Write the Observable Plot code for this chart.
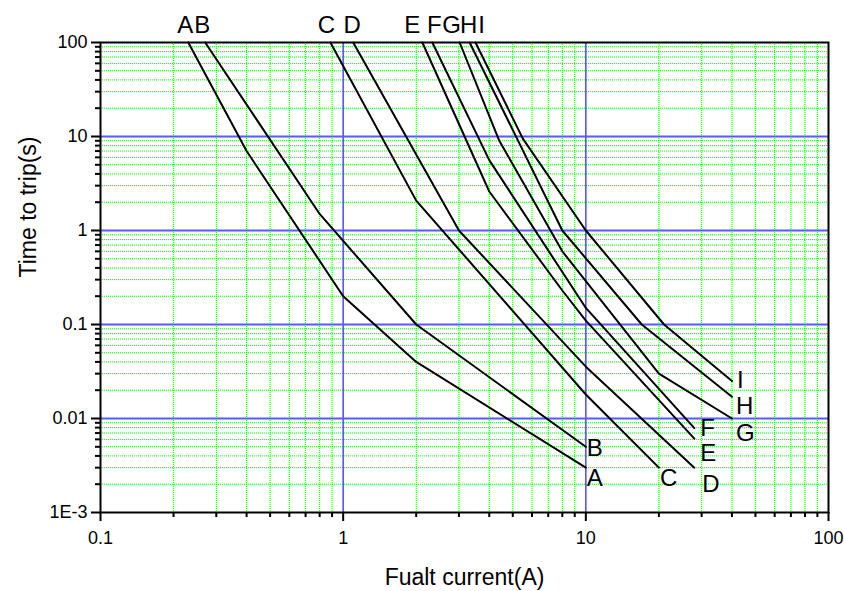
<!DOCTYPE html>
<html>
<head>
<meta charset="utf-8">
<script src="https://cdn.jsdelivr.net/npm/d3@7"></script>
<script src="https://cdn.jsdelivr.net/npm/@observablehq/plot@0.6"></script>
<style>
  html, body { margin: 0; padding: 0; background: #fff; }
  #chart { width: 844px; height: 591px; }
</style>
</head>
<body>
<div id="chart"></div>
<script>
// Curve data: fault current (A) and time to trip (s)
const curveNames = ["A", "B", "C", "D", "E", "F", "G", "H", "I"];
const A_current = [0.23, 0.4, 1, 2, 10];
const A_time    = [100, 7, 0.2, 0.04, 0.003];
const B_current = [0.27, 0.8, 2, 10];
const B_time    = [100, 1.5, 0.1, 0.005];
const C_current = [0.886, 2, 10, 20];
const C_time    = [100, 2.08, 0.018, 0.003];
const D_current = [1.1, 3, 10, 28];
const D_time    = [100, 1, 0.0356, 0.003];
const E_current = [2.12, 4, 8, 10, 28];
const E_time    = [100, 2.6, 0.23, 0.11, 0.0061];
const F_current = [2.33, 4, 10, 28];
const F_time    = [100, 5.6, 0.15, 0.0079];
const G_current = [3.02, 4.4, 8, 20, 40];
const G_time    = [100, 9, 0.6, 0.03, 0.01];
const H_current = [3.32, 8, 17, 40];
const H_time    = [100, 1, 0.1, 0.017];
const I_current = [3.51, 5.5, 10, 21, 40];
const I_time    = [100, 9.5, 1, 0.1, 0.025];

// Axis ticks
const xMajor = [0.1, 1, 10, 100];
const xMinor = [0.2,0.3,0.4,0.5,0.6,0.7,0.8,0.9, 2,3,4,5,6,7,8,9, 20,30,40,50,60,70,80,90];
const yMajor = [0.001, 0.01, 0.1, 1, 10, 100];
const yMajorLabels = ["1E-3", "0.01", "0.1", "1", "10", "100"];
const yMinor = [0.002,0.003,0.004,0.005,0.006,0.007,0.008,0.009,
  0.02,0.03,0.04,0.05,0.06,0.07,0.08,0.09,
  0.2,0.3,0.4,0.5,0.6,0.7,0.8,0.9,
  2,3,4,5,6,7,8,9, 20,30,40,50,60,70,80,90];
const xGridMajor = [1, 10];
const yGridMajor = [0.01, 0.1, 1, 10];

const xTitle = "Fualt current(A)";
const yTitle = "Time to trip(s)";

// Build table
const curveData = {A:[A_current,A_time],B:[B_current,B_time],C:[C_current,C_time],D:[D_current,D_time],
  E:[E_current,E_time],F:[F_current,F_time],G:[G_current,G_time],H:[H_current,H_time],I:[I_current,I_time]};
const rows = [];
for (const n of curveNames) {
  const [cx, ty] = curveData[n];
  cx.forEach((c, i) => rows.push({name: n, current: c, time: ty[i]}));
}
const startOf = n => ({name: n, current: curveData[n][0][0], time: curveData[n][1][0]});
const endOf = n => {
  const [cx, ty] = curveData[n];
  return {name: n, current: cx[cx.length - 1], time: ty[ty.length - 1]};
};

// label nudges (layout only, pixels)
const topNudge = {A:-3, B:-3, C:-4, D:-1, E:-10, F:2, G:-8, H:-1, I:6};
const endNudge = {A:[1,11], B:[1,2], C:[1,11], D:[8,17], E:[6,15], F:[6,0], G:[4,15], H:[4,9], I:[5,-1]};

const font = "'Liberation Sans', Arial, Helvetica, sans-serif";
const grid = "#00ff00";

const marks = [
  Plot.ruleX(xMinor, {stroke: grid, strokeWidth: 1, strokeDasharray: "1,1"}),
  Plot.ruleY(yMinor, {stroke: grid, strokeWidth: 1, strokeDasharray: "1,1"}),
  Plot.ruleX(xGridMajor, {stroke: "#4a4aff", strokeWidth: 1.5}),
  Plot.ruleY(yGridMajor, {stroke: "#5a5aff", strokeWidth: 2}),
  Plot.line(rows, {x: "current", y: "time", z: "name", stroke: "black", strokeWidth: 2}),
  Plot.frame({stroke: "black", strokeWidth: 2}),
  Plot.axisY(yMajor, {tickSize: 9, tickPadding: 4, strokeWidth: 2, fontSize: 18,
    tickFormat: d => yMajorLabels[yMajor.indexOf(d)], label: null}),
  Plot.axisY(yMinor, {tickSize: 5, strokeWidth: 2, tickFormat: () => "", label: null}),
  Plot.axisX(xMajor, {tickSize: 9, tickPadding: 10, strokeWidth: 2, fontSize: 18,
    tickFormat: d => String(d), label: null}),
  Plot.axisX(xMinor, {tickSize: 5, strokeWidth: 2, tickFormat: () => "", label: null}),
  ...curveNames.map(n => Plot.text([startOf(n)], {x: "current", y: "time", text: "name",
    fontSize: 24, lineAnchor: "middle", dy: -17, dx: topNudge[n], fill: "black"})),
  ...curveNames.map(n => Plot.text([endOf(n)], {x: "current", y: "time", text: "name",
    fontSize: 24, textAnchor: "start", lineAnchor: "middle", dx: endNudge[n][0], dy: endNudge[n][1], fill: "black"})),
  Plot.text([yTitle], {frameAnchor: "left", dx: -72, rotate: -90, fontSize: 23, lineAnchor: "middle", fill: "black"}),
  Plot.text([xTitle], {frameAnchor: "bottom", dy: 65, fontSize: 23, lineAnchor: "middle", fill: "black"})
];

const chart = Plot.plot({
  width: 844,
  height: 591,
  marginLeft: 100,
  marginTop: 42,
  marginRight: 16,
  marginBottom: 79,
  x: {type: "log", domain: [0.1, 100], axis: null},
  y: {type: "log", domain: [0.001, 100], axis: null},
  style: {fontFamily: font, fontSize: "18px", background: "white", color: "black", overflow: "visible"},
  marks
});
document.getElementById("chart").appendChild(chart);
</script>
</body>
</html>
